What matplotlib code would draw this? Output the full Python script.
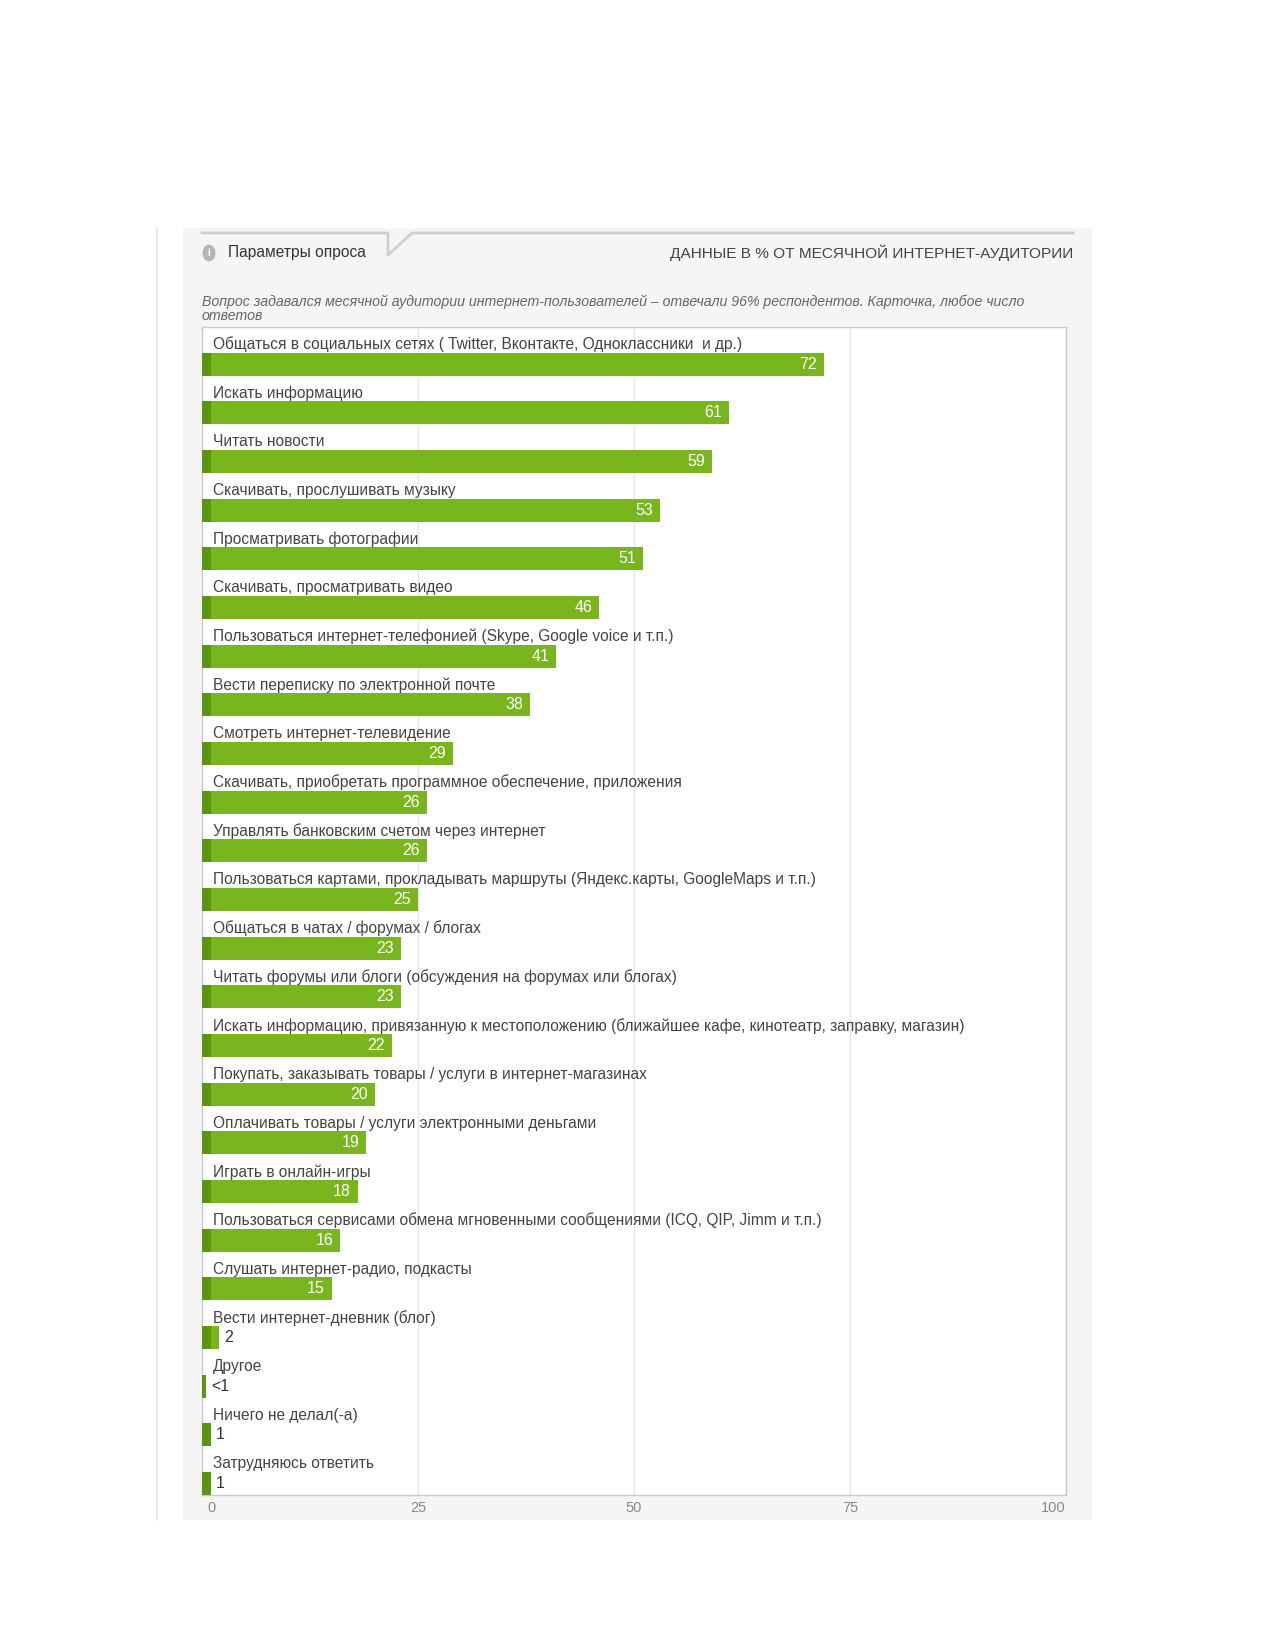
import matplotlib
matplotlib.use("Agg")
import matplotlib.pyplot as plt
from matplotlib.patches import Rectangle, Circle
from matplotlib.lines import Line2D
import matplotlib.transforms as mtransforms

plt.rcParams['font.family'] = ['Liberation Sans', 'DejaVu Sans']

categories = [
    "Общаться в социальных сетях ( Twitter, Вконтакте, Одноклассники  и др.)",
    "Искать информацию",
    "Читать новости",
    "Скачивать, прослушивать музыку",
    "Просматривать фотографии",
    "Скачивать, просматривать видео",
    "Пользоваться интернет-телефонией (Skype, Google voice и т.п.)",
    "Вести переписку по электронной почте",
    "Смотреть интернет-телевидение",
    "Скачивать, приобретать программное обеспечение, приложения",
    "Управлять банковским счетом через интернет",
    "Пользоваться картами, прокладывать маршруты (Яндекс.карты, GoogleMaps и т.п.)",
    "Общаться в чатах / форумах / блогах",
    "Читать форумы или блоги (обсуждения на форумах или блогах)",
    "Искать информацию, привязанную к местоположению (ближайшее кафе, кинотеатр, заправку, магазин)",
    "Покупать, заказывать товары / услуги в интернет-магазинах",
    "Оплачивать товары / услуги электронными деньгами",
    "Играть в онлайн-игры",
    "Пользоваться сервисами обмена мгновенными сообщениями (ICQ, QIP, Jimm и т.п.)",
    "Слушать интернет-радио, подкасты",
    "Вести интернет-дневник (блог)",
    "Другое",
    "Ничего не делал(-а)",
    "Затрудняюсь ответить",
]
values = [72, 61, 59, 53, 51, 46, 41, 38, 29, 26, 26, 25, 23, 23, 22, 20, 19, 18, 16, 15, 2, 0.5, 1, 1]
value_labels = ["72", "61", "59", "53", "51", "46", "41", "38", "29", "26", "26", "25",
                "23", "23", "22", "20", "19", "18", "16", "15", "2", "<1", "1", "1"]
x_ticks = [0, 25, 50, 75, 100]
x_tick_labels = ["0", "25", "50", "75", "100"]

header_left = "Параметры опроса"
header_right = "ДАННЫЕ В % ОТ МЕСЯЧНОЙ ИНТЕРНЕТ-АУДИТОРИИ"
subtitle1 = "Вопрос задавался месячной аудитории интернет-пользователей – отвечали 96% респондентов. Карточка, любое число"
subtitle2 = "ответов"

W, H = 1275, 1650
def fx(x):
    return x / W
def fy(y):
    return 1 - y / H

GREEN = "#79b51c"
DARK = "#5c9512"
TEXT = "#444444"

fig = plt.figure(figsize=(W / 100, H / 100), dpi=100)
fig.patch.set_facecolor("white")

# panel background
fig.patches.append(Rectangle((fx(183), fy(1520)), fx(1092) - fx(183), fy(228) - fy(1520),
                             transform=fig.transFigure, facecolor="#f5f5f5", edgecolor="none", zorder=-10))
# thin left line
fig.lines.append(Line2D([fx(157), fx(157)], [fy(228), fy(1520)], transform=fig.transFigure,
                        color="#e4e4e4", lw=1.2, zorder=-9))
# top line with notch
fig.lines.append(Line2D([fx(202), fx(388), fx(388), fx(412), fx(1073)],
                        [fy(233), fy(233), fy(255), fy(233), fy(233)],
                        transform=fig.transFigure, color="#cfcfcf", lw=2, zorder=-9))
# info icon
fig.patches.append(Circle((fx(209), fy(253)), 6.5 / W, transform=fig.transFigure,
                          facecolor="#b5b5b5", edgecolor="none", zorder=-9))
fig.text(fx(209), fy(253), "i", color="white", fontsize=7, fontweight="bold", ha="center", va="center")
fig.text(fx(228), fy(253), header_left, color="#333333", fontsize=11.2, ha="left", va="center")
fig.text(fx(1073), fy(253), header_right, color="#444444", fontsize=11.1, ha="right", va="center")
fig.text(fx(202), fy(302), subtitle1, color="#666666", fontsize=10.2, style="italic", ha="left", va="center")
fig.text(fx(202), fy(316), subtitle2, color="#666666", fontsize=10.2, style="italic", ha="left", va="center")

ax = fig.add_axes([fx(202), fy(1495), fx(1066) - fx(202), fy(327) - fy(1495)])
ax.set_facecolor("white")
n = len(categories)
ax.set_xlim(0, 100)
ax.set_ylim(n, 0)

rows = list(range(n))
bar_h = 0.47
centers = [i + 1 - bar_h / 2 for i in rows]
ax.barh(centers, values, height=bar_h, color=GREEN, edgecolor="none", zorder=3)
ax.barh(centers, [min(v, 1.0) for v in values], height=bar_h, color=DARK, edgecolor="none", zorder=4)

for i, (cat, v, lab) in enumerate(zip(categories, values, value_labels)):
    ax.text(1.3, i + 0.36, cat, color=TEXT, fontsize=11.2, ha="left", va="center", zorder=5)
    if v >= 5:
        ax.text(v - 0.8, centers[i], lab, color="white", fontsize=11.5, ha="right", va="center", zorder=5)
    else:
        ax.text(v + 0.6, centers[i], lab, color="#333333", fontsize=11.5, ha="left", va="center", zorder=5)

ax.set_xticks(x_ticks)
ax.set_xticklabels(x_tick_labels)
ax.set_yticks([])
ax.tick_params(axis="x", length=0, pad=4, labelsize=10.5, labelcolor="#888888")
labels = ax.get_xticklabels()
labels[0].set_ha("left")
labels[0].set_transform(labels[0].get_transform() + mtransforms.ScaledTranslation(5 / 100, 0, fig.dpi_scale_trans))
labels[-1].set_ha("right")

for x in x_ticks[1:-1]:
    ax.axvline(x, color="#e6e6e6", lw=1, zorder=1)
for s in ax.spines.values():
    s.set_color("#c9c9c9")
    s.set_linewidth(1)

fig.savefig("out.png", dpi=100)
